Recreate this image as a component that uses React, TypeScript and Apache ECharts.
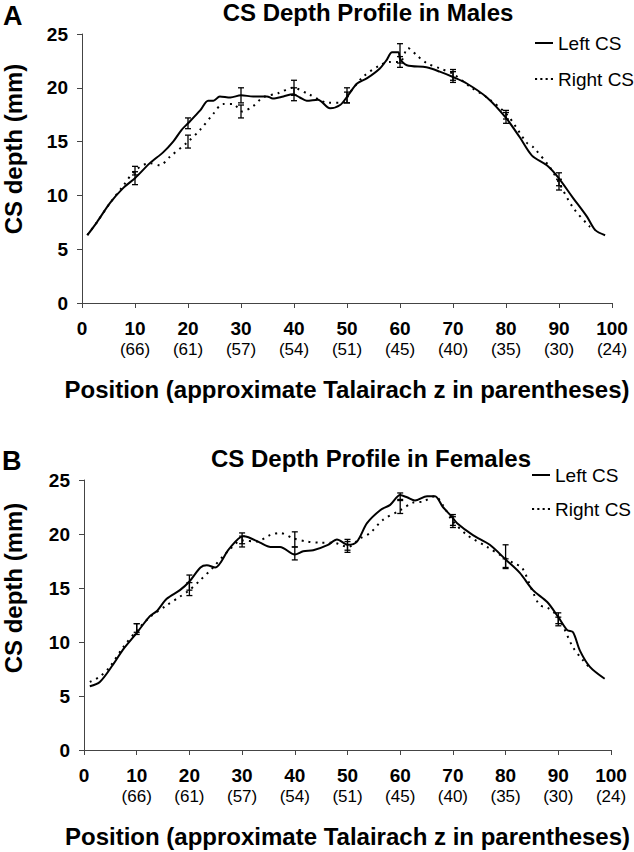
import React, { useEffect, useRef } from "react";
import * as echarts from "echarts";

const FONT = "'Liberation Sans', Arial, sans-serif";

// X tick labels
const xTicks = [0, 10, 20, 30, 40, 50, 60, 70, 80, 90, 100];
const zLabels = ["", "(66)", "(61)", "(57)", "(54)", "(51)", "(45)", "(40)", "(35)", "(30)", "(24)"];

// Panel A (Males) – Left CS
const maleLeftPos = [1.0, 2.8, 5.3, 7.8, 10, 12.8, 15.3, 17.2, 18.8, 20, 22.3, 23.8, 24.8, 26, 28, 30, 32.3, 34.9, 36, 38, 39.8, 41.1, 42.4, 44.5, 46.8, 48.7, 50.2, 51.9, 53.8, 56.2, 57.5, 58.5, 59.7, 60, 61.3, 65, 67.5, 70, 72.6, 76.4, 80, 82.6, 84.9, 87.7, 89.8, 92.6, 95.3, 96.8, 98.7];
const maleLeftVal = [6.3, 7.5, 9.3, 10.7, 11.6, 13.0, 14.0, 15.0, 16.1, 16.7, 17.9, 18.8, 18.8, 19.2, 19.1, 19.3, 19.2, 19.2, 19.0, 19.2, 19.4, 19.1, 18.8, 18.9, 18.1, 18.4, 19.3, 20.4, 20.9, 21.8, 22.6, 23.3, 23.3, 22.7, 22.1, 21.9, 21.5, 21.0, 20.4, 19.1, 17.2, 15.4, 13.7, 12.8, 11.7, 9.8, 8.0, 6.8, 6.3];

// Panel A (Males) – Right CS
const maleRightPos = [1.0, 2.8, 5.3, 7.8, 10, 12.8, 14.7, 16.6, 19.8, 22.3, 24.8, 26.6, 28.5, 30.2, 32.3, 34.1, 37, 39.8, 42.8, 46.5, 49.2, 50.6, 53, 56.2, 58.1, 60, 61.5, 63.2, 65, 67.5, 70, 73.2, 76.4, 80.2, 83.9, 85.1, 88.3, 90.2, 92.6, 95.8, 96.8];
const maleRightVal = [6.3, 7.5, 9.3, 10.9, 12.3, 13.0, 12.8, 13.6, 14.9, 16.1, 17.6, 18.5, 18.5, 17.8, 18.3, 19.1, 19.5, 20.0, 19.4, 18.6, 18.6, 19.6, 21.0, 22.1, 22.4, 22.4, 23.7, 23.0, 22.3, 21.8, 21.3, 20.1, 19.1, 17.5, 14.9, 14.5, 12.6, 11.0, 8.9, 7.1, 6.8];

// Panel B (Females) – Left CS
const femaleLeftPos = [1.1, 3.0, 5.5, 7.4, 10.1, 12.5, 13.9, 15.7, 18.2, 20, 22.1, 23.3, 24.9, 27.5, 30.2, 31.2, 33.4, 35.4, 37.2, 40, 41.6, 43.5, 46.3, 48, 50.1, 51.8, 53.7, 56.2, 58.1, 60, 61.3, 62.8, 65.1, 66.6, 68.1, 69.8, 70.8, 73.8, 77, 80.1, 82.7, 85.2, 87.9, 90, 91.7, 92.8, 94.1, 96, 98.8];
const femaleLeftVal = [5.9, 6.3, 7.9, 9.3, 10.9, 12.4, 12.9, 14.0, 14.8, 15.6, 16.9, 17.1, 16.9, 18.6, 19.8, 19.7, 19.2, 18.8, 18.8, 18.1, 18.4, 18.5, 19.0, 19.5, 19.0, 19.3, 21.0, 22.2, 22.7, 23.6, 23.4, 23.1, 23.5, 23.5, 22.5, 21.6, 21.0, 19.9, 19.0, 17.6, 16.4, 14.8, 13.7, 12.3, 11.1, 10.9, 9.2, 7.7, 6.6];

// Panel B (Females) – Right CS
const femaleRightPos = [1.1, 3.0, 4.9, 7.4, 10.1, 12.5, 15.7, 18.2, 20, 22, 24.5, 27.1, 30, 32.8, 35.3, 37.2, 39.7, 42.3, 44.8, 47.2, 50.1, 52.4, 54.3, 56.7, 60, 62.4, 64.3, 66.6, 68.2, 69.8, 72.7, 76.5, 79.5, 81.5, 83.1, 85.2, 86.5, 87.9, 90, 92.8, 94.7, 96];
const femaleRightVal = [6.3, 6.8, 7.7, 9.5, 11.1, 12.3, 13.4, 14.2, 14.8, 15.7, 16.9, 18.3, 19.4, 19.3, 19.9, 20.1, 19.6, 19.3, 19.2, 19.2, 18.8, 19.6, 20.1, 21.3, 22.2, 22.9, 23.0, 23.5, 22.6, 21.3, 19.9, 18.8, 17.9, 17.3, 16.9, 14.6, 13.4, 13.2, 12.3, 9.5, 8.3, 7.6];

// Error bars (positions 10..90): centre and half-width
const errPos = [10, 20, 30, 40, 50, 60, 70, 80, 90];
const maleLeftErrMid = [11.6, 16.7, 19.3, 19.4, 19.3, 23.2, 21.0, 17.2, 11.5];
const maleLeftErrHalf = [0.6, 0.5, 0.7, 0.6, 0.7, 0.9, 0.5, 0.5, 0.6];
const maleRightErrMid = [12.3, 15.0, 17.8, 20.0, 19.1, 22.4, 21.2, 17.5, 11.0];
const maleRightErrHalf = [0.4, 0.6, 0.6, 0.7, 0.5, 0.5, 0.5, 0.4, 0.5];
const femaleLeftErrMid = [11.2, 15.5, 19.6, 18.2, 19.0, 23.5, 21.3, 17.3, 12.2];
const femaleLeftErrHalf = [0.5, 0.7, 0.5, 0.6, 0.5, 0.3, 0.5, 0.4, 0.5];
const femaleRightErrMid = [11.3, 14.9, 19.3, 19.5, 18.8, 22.5, 21.1, 17.9, 11.9];
const femaleRightErrHalf = [0.4, 0.6, 0.5, 0.7, 0.5, 0.6, 0.5, 1.1, 0.4];

const zip = (xs: number[], ys: number[]) => xs.map((x, i) => [x, ys[i]]);
const errData = (mid: number[], half: number[]) =>
  errPos.map((x, i) => [x, mid[i] - half[i], mid[i] + half[i]]);

const renderErr = (params: any, api: any) => {
  const x = api.value(0);
  const lo = api.coord([x, api.value(1)]);
  const hi = api.coord([x, api.value(2)]);
  const w = 3;
  const style = { stroke: "#000", lineWidth: 1.3 };
  return {
    type: "group",
    children: [
      { type: "line", shape: { x1: lo[0], y1: lo[1], x2: hi[0], y2: hi[1] }, style },
      { type: "line", shape: { x1: lo[0] - w, y1: lo[1], x2: lo[0] + w, y2: lo[1] }, style },
      { type: "line", shape: { x1: hi[0] - w, y1: hi[1], x2: hi[0] + w, y2: hi[1] }, style },
    ],
  };
};

const axisColor = "#444";

const SOLID_ICON = "path://M0,0H18V2H0Z";
const DOTTED_ICON = "path://M0,0H2V2H0Z M5,0H7V2H5Z M10,0H12V2H10Z M15,0H17V2H15Z";

const makeX = (gridIndex: number) => ({
  type: "value",
  gridIndex,
  min: 0,
  max: 100,
  interval: 10,
  splitLine: { show: false },
  axisLine: { onZero: false, lineStyle: { color: axisColor, width: 1 } },
  axisTick: { show: true, length: 5, inside: false, lineStyle: { color: axisColor } },
  axisLabel: {
    margin: 14,
    showMinLabel: true,
    showMaxLabel: true,
    formatter: (v: number) => {
      const idx = xTicks.indexOf(v);
      const z = idx >= 0 ? zLabels[idx] : "";
      return z ? `{a|${v}}\n{b|${z}}` : `{a|${v}}`;
    },
    rich: {
      a: { fontSize: 19, fontWeight: "bold", color: "#000", fontFamily: FONT, lineHeight: 22 },
      b: { fontSize: 17, color: "#000", fontFamily: FONT, lineHeight: 20 },
    },
  },
  name: "Position (approximate Talairach z in parentheses)",
  nameLocation: "middle",
  nameGap: 74,
  nameTextStyle: { fontSize: 24, fontWeight: "bold", color: "#000", fontFamily: FONT },
});

const makeY = (gridIndex: number) => ({
  type: "value",
  gridIndex,
  min: 0,
  max: 25,
  interval: 5,
  splitLine: { show: false },
  axisLine: { show: true, lineStyle: { color: axisColor, width: 1 } },
  axisTick: { show: true, length: 5, lineStyle: { color: axisColor } },
  axisLabel: { margin: 14, fontSize: 19, fontWeight: "bold", color: "#000", fontFamily: FONT },
});

const lineSeries = (name: string, xi: number, data: number[][], dotted: boolean) => ({
  type: "line",
  name,
  xAxisIndex: xi,
  yAxisIndex: xi,
  data,
  symbol: "none",
  smooth: 0.3,
  lineStyle: dotted
    ? { color: "#000", width: 2, type: [2, 5] }
    : { color: "#000", width: 2, type: "solid" },
  itemStyle: { color: "#000" },
  z: 3,
});

const errSeries = (name: string, xi: number, data: number[][]) => ({
  type: "custom",
  name,
  xAxisIndex: xi,
  yAxisIndex: xi,
  data,
  renderItem: renderErr,
  z: 4,
});

const legendData = [
  { name: "Left CS", icon: SOLID_ICON },
  { name: "Right CS", icon: DOTTED_ICON },
];

const titleStyle = { fontSize: 24, fontWeight: "bold", color: "#000", fontFamily: FONT };
const yNameStyle = {
  text: "CS depth (mm)",
  fontSize: 24,
  fontWeight: "bold",
  fill: "#000",
  fontFamily: FONT,
  align: "center",
  verticalAlign: "middle",
};

export default function App() {
  const ref = useRef<HTMLDivElement>(null);
  useEffect(() => {
    if (!ref.current) return;
    const chart = echarts.init(ref.current, null, { renderer: "svg" });
    chart.setOption({
      animation: false,
      backgroundColor: "#fff",
      title: [
        { text: "CS Depth Profile in Males", left: 368, top: 0, textAlign: "center", padding: 0, textStyle: titleStyle },
        { text: "CS Depth Profile in Females", left: 371, top: 446, textAlign: "center", padding: 0, textStyle: titleStyle },
      ],
      legend: [
        {
          data: legendData,
          orient: "vertical",
          left: 535,
          top: 32,
          itemWidth: 18,
          itemHeight: 14,
          itemGap: 14,
          padding: 0,
          itemStyle: { color: "#000" },
          textStyle: { fontSize: 19, color: "#000", fontFamily: FONT, lineHeight: 22 },
        },
        {
          data: legendData,
          orient: "vertical",
          left: 532,
          top: 464,
          itemWidth: 18,
          itemHeight: 14,
          itemGap: 12,
          padding: 0,
          itemStyle: { color: "#000" },
          textStyle: { fontSize: 19, color: "#000", fontFamily: FONT, lineHeight: 22 },
        },
      ],
      grid: [
        { left: 82, top: 34, right: 22, height: 269 },
        { left: 84, top: 480, right: 23, height: 270 },
      ],
      xAxis: [makeX(0), makeX(1)],
      yAxis: [makeY(0), makeY(1)],
      graphic: [
        { type: "text", x: 3, y: 2, style: { text: "A", fontSize: 27, fontWeight: "bold", fill: "#000", fontFamily: FONT } },
        { type: "text", x: 2, y: 447, style: { text: "B", fontSize: 27, fontWeight: "bold", fill: "#000", fontFamily: FONT } },
        { type: "text", x: 13, y: 149, rotation: Math.PI / 2, style: yNameStyle },
        { type: "text", x: 13, y: 588, rotation: Math.PI / 2, style: yNameStyle },
      ],
      series: [
        lineSeries("Left CS", 0, zip(maleLeftPos, maleLeftVal), false),
        lineSeries("Right CS", 0, zip(maleRightPos, maleRightVal), true),
        errSeries("Left CS error (males)", 0, errData(maleLeftErrMid, maleLeftErrHalf)),
        errSeries("Right CS error (males)", 0, errData(maleRightErrMid, maleRightErrHalf)),
        lineSeries("Left CS", 1, zip(femaleLeftPos, femaleLeftVal), false),
        lineSeries("Right CS", 1, zip(femaleRightPos, femaleRightVal), true),
        errSeries("Left CS error (females)", 1, errData(femaleLeftErrMid, femaleLeftErrHalf)),
        errSeries("Right CS error (females)", 1, errData(femaleRightErrMid, femaleRightErrHalf)),
      ],
    });
    return () => chart.dispose();
  }, []);
  return (
    <div
      ref={ref}
      style={{ position: "absolute", left: 0, top: 0, width: 634, height: 852, background: "#fff" }}
    />
  );
}
